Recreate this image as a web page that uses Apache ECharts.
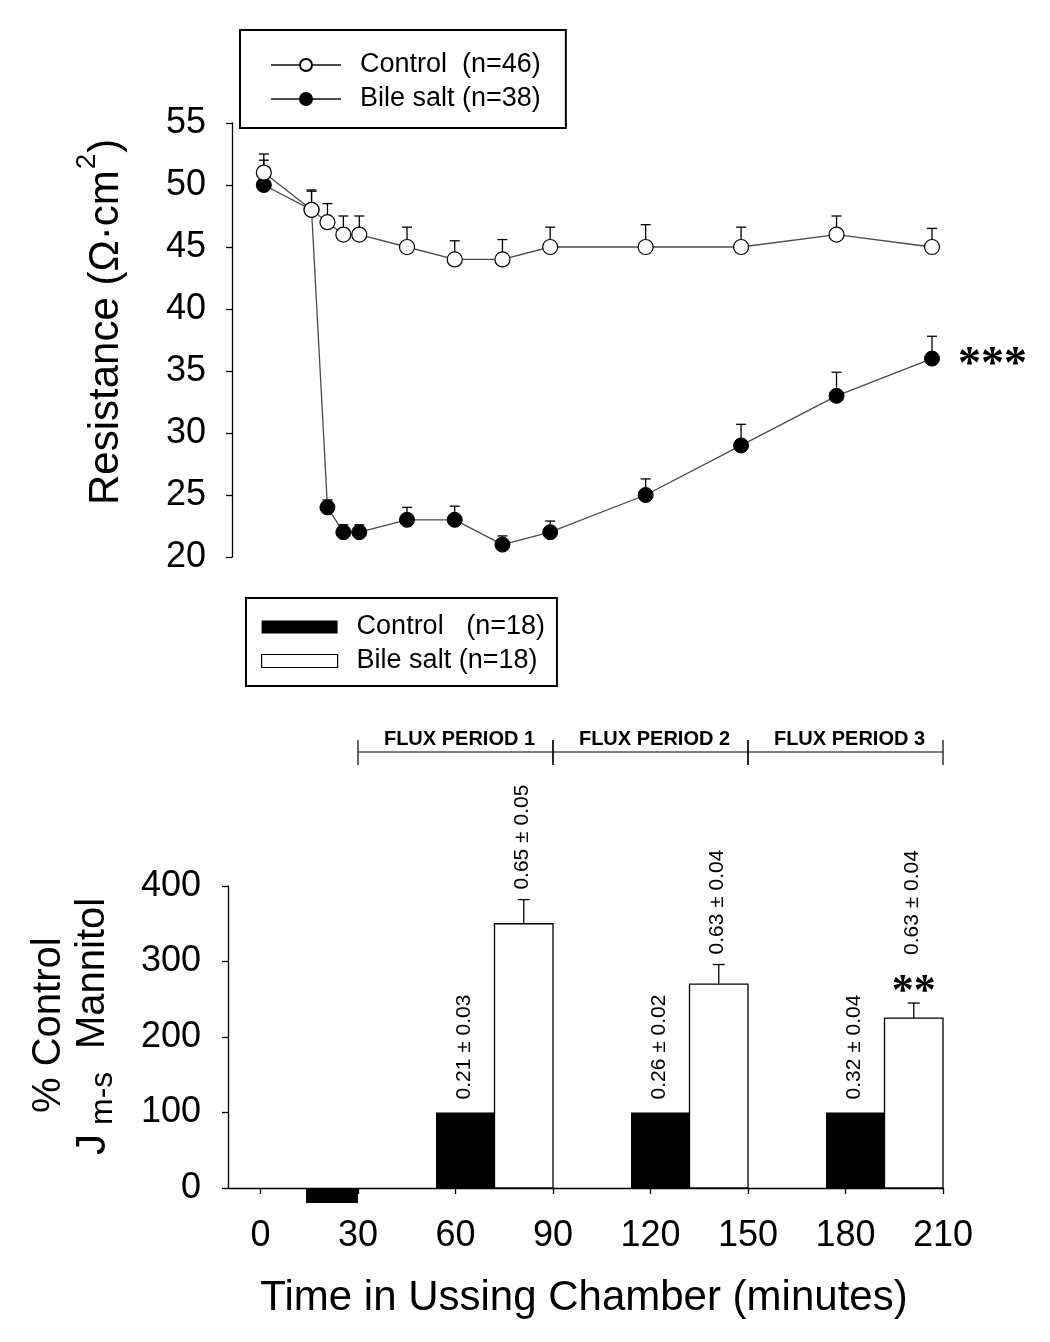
<!DOCTYPE html>
<html><head><meta charset="utf-8">
<script src="https://cdn.jsdelivr.net/npm/echarts@6/dist/echarts.min.js"></script>
<style>html,body{margin:0;padding:0;background:#fff}#c{width:1050px;height:1342px}</style>
</head><body><div id="c"></div>
<script>
const FONT = '"Liberation Sans", Arial, sans-serif';
// ---- Top panel: transepithelial resistance ----
const resTimes = [0, 15, 20, 25, 30, 45, 60, 75, 90, 120, 150, 180, 210];
const ctrlRes  = [51, 48, 47, 46, 46, 45, 44, 44, 45, 45, 45, 46, 45];
const ctrlSE   = [1.5, 1.6, 1.5, 1.5, 1.5, 1.6, 1.5, 1.6, 1.6, 1.8, 1.6, 1.5, 1.5];
const bileRes  = [50, 48, 24, 22, 22, 23, 23, 21, 22, 25, 29, 33, 36];
const bileSE   = [2.0, 1.5, 0.6, 0.6, 0.6, 1.0, 1.1, 0.7, 0.9, 1.3, 1.7, 1.9, 1.8];
const resSigText = '***';
// ---- Bottom panel: mannitol flux ----
const timeTicks = [0, 30, 60, 90, 120, 150, 180, 210];
const ctrlBarStart = [14, 54, 114, 174];
const ctrlBarEnd   = [30, 72, 132, 192];
const ctrlFlux     = [-20, 100, 100, 100];
const ctrlLabels   = ['', '0.21 ± 0.03', '0.26 ± 0.02', '0.32 ± 0.04'];
const bileBarStart = [72, 132, 192];
const bileBarEnd   = [90, 150, 210];
const bileFlux     = [350, 270, 225];
const bileFluxSE   = [32, 26, 20];
const bileLabels   = ['0.65 ± 0.05', '0.63 ± 0.04', '0.63 ± 0.04'];
const bileSig      = ['', '', '**'];
const fluxStart = [30, 90, 150];
const fluxEnd   = [90, 150, 210];
const fluxNames = ['FLUX PERIOD 1', 'FLUX PERIOD 2', 'FLUX PERIOD 3'];

const LEG_CTRL = 'Control  (n=46)', LEG_BILE = 'Bile salt (n=38)';
const LEG_CBAR = 'Control   (n=18)', LEG_BBAR = 'Bile salt (n=18)';

function errRender(params, api) {
  const x = api.value(0), y = api.value(1), hi = api.value(2);
  const p = api.coord([x, y]), q = api.coord([x, hi]);
  const st = { stroke: '#000', lineWidth: 1.3 };
  return { type: 'group', children: [
    { type: 'line', shape: { x1: p[0], y1: p[1], x2: q[0], y2: q[1] }, style: st },
    { type: 'line', shape: { x1: q[0] - 5, y1: q[1], x2: q[0] + 5, y2: q[1] }, style: st }
  ]};
}
function sigRender(params, api) {
  const p = api.coord([api.value(0), api.value(1)]);
  return { type: 'text', x: p[0] + 26, y: p[1] + 8,
    style: { text: resSigText, align: 'left', verticalAlign: 'middle', fontSize: 46,
      fontFamily: '"Liberation Serif", serif', fontWeight: 'bold', fill: '#000' } };
}
function ctrlBarRender(params, api) {
  const i = params.dataIndex;
  const x0 = api.value(0), x1 = api.value(1), v = api.value(2);
  const a = api.coord([x0, v]), b = api.coord([x1, 0]);
  const ch = [{ type: 'rect', shape: { x: a[0], y: Math.min(a[1], b[1]), width: b[0] - a[0], height: Math.abs(b[1] - a[1]) },
    style: { fill: '#000' } }];
  if (ctrlLabels[i]) ch.push({ type: 'text', x: (a[0] + b[0]) / 2 - 1, y: a[1] - 13, rotation: Math.PI / 2,
    style: { text: ctrlLabels[i], align: 'left', verticalAlign: 'middle', fontSize: 21, fontFamily: FONT, fill: '#000' } });
  return { type: 'group', children: ch };
}
function bileBarRender(params, api) {
  const i = params.dataIndex;
  const x0 = api.value(0), x1 = api.value(1), v = api.value(2), se = api.value(3);
  const a = api.coord([x0, v]), b = api.coord([x1, 0]);
  const cx = (a[0] + b[0]) / 2;
  const cap = api.coord([x0, v + se])[1];
  const st = { stroke: '#000', lineWidth: 1.3 };
  const ch = [
    { type: 'rect', shape: { x: a[0], y: a[1], width: b[0] - a[0], height: b[1] - a[1] },
      style: { fill: '#fff', stroke: '#000', lineWidth: 1.3 } },
    { type: 'line', shape: { x1: cx, y1: a[1], x2: cx, y2: cap }, style: st },
    { type: 'line', shape: { x1: cx - 6, y1: cap, x2: cx + 6, y2: cap }, style: st }
  ];
  let off = 10;
  if (bileSig[i]) {
    ch.push({ type: 'text', x: cx, y: cap + 12, style: { text: bileSig[i], align: 'center', verticalAlign: 'bottom',
      fontSize: 44, fontFamily: '"Liberation Serif", serif', fontWeight: 'bold', fill: '#000' } });
    off = 48;
  }
  ch.push({ type: 'text', x: cx - 2, y: cap - off, rotation: Math.PI / 2,
    style: { text: bileLabels[i], align: 'left', verticalAlign: 'middle', fontSize: 21, fontFamily: FONT, fill: '#000' } });
  return { type: 'group', children: ch };
}
function fluxRender(params, api) {
  const i = params.dataIndex;
  const a = api.coord([api.value(0), 400]), b = api.coord([api.value(1), 400]);
  const y = a[1] - 134;
  const st = { stroke: '#000', lineWidth: 1.2 };
  const ch = [
    { type: 'line', shape: { x1: a[0], y1: y, x2: b[0], y2: y }, style: st },
    { type: 'line', shape: { x1: a[0], y1: y - 12, x2: a[0], y2: y + 13 }, style: st },
    { type: 'line', shape: { x1: b[0], y1: y - 12, x2: b[0], y2: y + 13 }, style: st },
    { type: 'text', x: (a[0] + b[0]) / 2 + 4, y: y - 3, style: { text: fluxNames[i], align: 'center', verticalAlign: 'bottom',
      fontSize: 20, fontWeight: 'bold', fontFamily: FONT, fill: '#000' } }
  ];
  return { type: 'group', children: ch };
}

const chart = echarts.init(document.getElementById('c'), null, { renderer: 'canvas' });
const axisTxt = { color: '#000', fontSize: 36, fontFamily: FONT };
const blackLine = { color: '#000', width: 1.3 };
const option = {
  backgroundColor: '#fff',
  animation: false,
  grid: [
    { left: 232, top: 123, width: 700, height: 434, outerBoundsMode: 'none' },
    { left: 228, top: 886, width: 715, height: 302, outerBoundsMode: 'none' }
  ],
  xAxis: [
    { gridIndex: 0, type: 'value', min: -10, max: 210, show: false },
    { gridIndex: 1, type: 'value', min: -10, max: 210,
      axisLine: { show: true, onZero: false, lineStyle: blackLine },
      axisTick: { show: true, length: 6, customValues: timeTicks, lineStyle: blackLine },
      axisLabel: Object.assign({ customValues: timeTicks, margin: 30 }, axisTxt),
      splitLine: { show: false } }
  ],
  yAxis: [
    { gridIndex: 0, type: 'value', min: 20, max: 55, interval: 5,
      axisLine: { show: true, onZero: false, lineStyle: blackLine },
      axisTick: { show: true, length: 6, lineStyle: blackLine },
      axisLabel: Object.assign({ margin: 26 }, axisTxt), splitLine: { show: false } },
    { gridIndex: 1, type: 'value', min: 0, max: 400, interval: 100,
      axisLine: { show: true, onZero: false, lineStyle: blackLine },
      axisTick: { show: true, length: 6, lineStyle: blackLine },
      axisLabel: Object.assign({ margin: 27 }, axisTxt), splitLine: { show: false } }
  ],
  legend: [
    { left: 240, top: 30, orient: 'vertical', padding: [21, 25, 15, 30], itemGap: 6,
      itemWidth: 70, itemHeight: 15, borderColor: '#000', borderWidth: 2, borderRadius: 0,
      selectedMode: false,
      textStyle: { fontSize: 27, lineHeight: 28, fontFamily: FONT, color: '#000', padding: [0, 0, 0, 14] },
      data: [LEG_CTRL, LEG_BILE] },
    { left: 246, top: 598, orient: 'vertical', padding: [15, 12, 11, 15], itemGap: 6,
      itemWidth: 76, itemHeight: 13, borderColor: '#000', borderWidth: 2, borderRadius: 0,
      selectedMode: false,
      textStyle: { fontSize: 27, lineHeight: 28, fontFamily: FONT, color: '#000', padding: [0, 0, 0, 14] },
      data: [
        { name: LEG_CBAR, icon: 'rect', itemStyle: { color: '#000', borderWidth: 0 } },
        { name: LEG_BBAR, icon: 'rect', itemStyle: { color: '#fff', borderColor: '#000', borderWidth: 1.2 } }
      ] }
  ],
  series: [
    { type: 'custom', name: 'bileErr', xAxisIndex: 0, yAxisIndex: 0, z: 1, clip: false,
      renderItem: errRender, data: resTimes.map((t, i) => [t, bileRes[i], bileRes[i] + bileSE[i]]) },
    { type: 'line', name: LEG_BILE, xAxisIndex: 0, yAxisIndex: 0, z: 2, clip: false,
      symbol: 'circle', symbolSize: 15,
      lineStyle: { color: '#4a4a4a', width: 1.3 },
      itemStyle: { color: '#000', borderColor: '#000', borderWidth: 1 },
      data: resTimes.map((t, i) => [t, bileRes[i]]) },
    { type: 'custom', name: 'ctrlErr', xAxisIndex: 0, yAxisIndex: 0, z: 3, clip: false,
      renderItem: errRender, data: resTimes.map((t, i) => [t, ctrlRes[i], ctrlRes[i] + ctrlSE[i]]) },
    { type: 'line', name: LEG_CTRL, xAxisIndex: 0, yAxisIndex: 0, z: 4, clip: false,
      symbol: 'circle', symbolSize: 15,
      lineStyle: { color: '#4a4a4a', width: 1.3 },
      itemStyle: { color: '#fff', borderColor: '#000', borderWidth: 1.2 },
      data: resTimes.map((t, i) => [t, ctrlRes[i]]) },
    { type: 'custom', name: 'resSig', xAxisIndex: 0, yAxisIndex: 0, z: 5, clip: false,
      renderItem: sigRender, data: [[resTimes[resTimes.length - 1], bileRes[bileRes.length - 1]]] },
    { type: 'custom', name: LEG_CBAR, xAxisIndex: 1, yAxisIndex: 1, z: 3, clip: false,
      itemStyle: { color: '#000' },
      encode: { x: [0, 1], y: 2 }, renderItem: ctrlBarRender,
      data: ctrlFlux.map((v, i) => [ctrlBarStart[i], ctrlBarEnd[i], v]) },
    { type: 'custom', name: LEG_BBAR, xAxisIndex: 1, yAxisIndex: 1, z: 3, clip: false,
      itemStyle: { color: '#fff' },
      encode: { x: [0, 1], y: 2 }, renderItem: bileBarRender,
      data: bileFlux.map((v, i) => [bileBarStart[i], bileBarEnd[i], v, bileFluxSE[i]]) },
    { type: 'custom', name: 'flux', xAxisIndex: 1, yAxisIndex: 1, z: 3, clip: false,
      encode: { x: [0, 1] }, renderItem: fluxRender,
      data: fluxStart.map((s, i) => [s, fluxEnd[i]]) }
  ],
  graphic: [
    { type: 'text', x: 106, y: 505, rotation: Math.PI / 2,
      style: { text: 'Resistance (Ω·cm', align: 'left', verticalAlign: 'middle', fontSize: 42, fontFamily: FONT, fill: '#000' } },
    { type: 'text', id: 'sup2', x: 87, y: 170, rotation: Math.PI / 2,
      style: { text: '2', align: 'left', verticalAlign: 'middle', fontSize: 28, fontFamily: FONT, fill: '#000' } },
    { type: 'text', id: 'rpar', x: 106, y: 154, rotation: Math.PI / 2,
      style: { text: ')', align: 'left', verticalAlign: 'middle', fontSize: 42, fontFamily: FONT, fill: '#000' } },
    { type: 'text', x: 49, y: 1113, rotation: Math.PI / 2,
      style: { text: '% Control', align: 'left', verticalAlign: 'middle', fontSize: 40, fontFamily: FONT, fill: '#000' } },
    { type: 'text', x: 93, y: 1155, rotation: Math.PI / 2,
      style: { text: 'J', align: 'left', verticalAlign: 'middle', fontSize: 42, fontFamily: FONT, fill: '#000' } },
    { type: 'text', x: 103, y: 1125, rotation: Math.PI / 2,
      style: { text: 'm-s', align: 'left', verticalAlign: 'middle', fontSize: 32, fontFamily: FONT, fill: '#000' } },
    { type: 'text', x: 93, y: 1049, rotation: Math.PI / 2,
      style: { text: 'Mannitol', align: 'left', verticalAlign: 'middle', fontSize: 40, fontFamily: FONT, fill: '#000' } },
    { type: 'text', x: 584, y: 1298,
      style: { text: 'Time in Ussing Chamber (minutes)', align: 'center', verticalAlign: 'middle', fontSize: 42, fontFamily: FONT, fill: '#000' } }
  ]
};
chart.setOption(option);
// place superscript and closing parenthesis right after measured main label text
(function () {
  const ctx = document.createElement('canvas').getContext('2d');
  ctx.font = '42px ' + FONT;
  const w1 = ctx.measureText('Resistance (Ω·cm').width;
  ctx.font = '28px ' + FONT;
  const w2 = ctx.measureText('2').width;
  chart.setOption({ graphic: [
    { id: 'sup2', y: 505 - w1 - 1 },
    { id: 'rpar', y: 505 - w1 - w2 - 2 }
  ] });
})();
</script></body></html>
